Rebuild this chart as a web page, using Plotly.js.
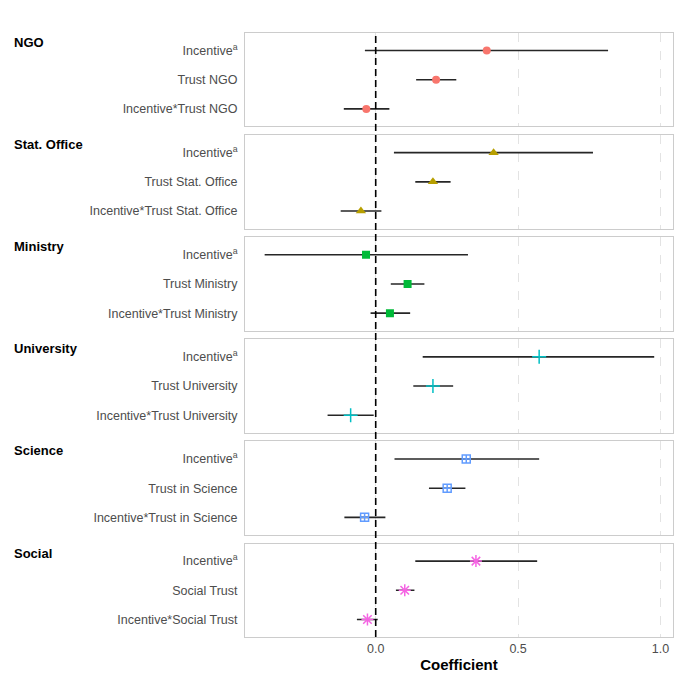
<!DOCTYPE html>
<html>
<head>
<meta charset="utf-8">
<script src="https://cdn.plot.ly/plotly-3.0.1.min.js"></script>
<style>html,body{margin:0;padding:0;background:#fff}#chart{width:682px;height:682px}</style>
</head>
<body>
<div id="chart"></div>
<script>
// ---- data ----
var groups = ['NGO', 'Stat. Office', 'Ministry', 'University', 'Science', 'Social'];
var termsNGO = ['Incentive<sup>a</sup>', 'Trust NGO', 'Incentive*Trust NGO'];
var termsStat = ['Incentive<sup>a</sup>', 'Trust Stat. Office', 'Incentive*Trust Stat. Office'];
var termsMinistry = ['Incentive<sup>a</sup>', 'Trust Ministry', 'Incentive*Trust Ministry'];
var termsUniversity = ['Incentive<sup>a</sup>', 'Trust University', 'Incentive*Trust University'];
var termsScience = ['Incentive<sup>a</sup>', 'Trust in Science', 'Incentive*Trust in Science'];
var termsSocial = ['Incentive<sup>a</sup>', 'Social Trust', 'Incentive*Social Trust'];

var estNGO = [0.390, 0.212, -0.033];
var loNGO  = [-0.038, 0.142, -0.112];
var hiNGO  = [0.816, 0.283, 0.048];

var estStat = [0.414, 0.201, -0.052];
var loStat  = [0.064, 0.139, -0.123];
var hiStat  = [0.763, 0.263, 0.020];

var estMinistry = [-0.034, 0.112, 0.050];
var loMinistry  = [-0.390, 0.053, -0.018];
var hiMinistry  = [0.324, 0.171, 0.121];

var estUniversity = [0.574, 0.201, -0.088];
var loUniversity  = [0.165, 0.132, -0.169];
var hiUniversity  = [0.978, 0.272, -0.007];

var estScience = [0.318, 0.251, -0.039];
var loScience  = [0.066, 0.187, -0.110];
var hiScience  = [0.574, 0.315, 0.034];

var estSocial = [0.352, 0.102, -0.029];
var loSocial  = [0.139, 0.071, -0.066];
var hiSocial  = [0.567, 0.136, 0.007];

var xTickVals = [0, 0.5, 1.0];
var xTickText = ['0.0', '0.5', '1.0'];

// ---- styles ----
var colors = ['#F8766D', '#B79F00', '#00BA38', '#00BFC4', '#619CFF', '#F564E3'];
var symbols = ['circle', 'triangle-up', 'square', 'cross-thin-open', 'square-cross-open', 'asterisk-open'];
var sizes = [8, 9, 8, 10, 8, 10];

(function () {
  var allTerms = [termsNGO, termsStat, termsMinistry, termsUniversity, termsScience, termsSocial];
  var allEst = [estNGO, estStat, estMinistry, estUniversity, estScience, estSocial];
  var allLo = [loNGO, loStat, loMinistry, loUniversity, loScience, loSocial];
  var allHi = [hiNGO, hiStat, hiMinistry, hiUniversity, hiScience, hiSocial];

  var FONT = 'Liberation Sans, Arial, sans-serif';
  var gap = 0.0144;
  var ph = (1 - 5 * gap) / 6;

  var traces = [];
  var layout = {
    width: 682, height: 682,
    margin: {l: 245, r: 9, t: 33, b: 45},
    paper_bgcolor: '#fff', plot_bgcolor: '#fff',
    showlegend: false,
    font: {family: FONT, color: '#4D4D4D'},
    annotations: [],
    shapes: []
  };

  for (var i = 0; i < 6; i++) {
    var n = i === 0 ? '' : String(i + 1);
    var est = allEst[i];
    var hi = allHi[i], lo = allLo[i];
    var plus = est.map(function (v, k) { return hi[k] - v; });
    var minus = est.map(function (v, k) { return v - lo[k]; });
    var isSym = symbols[i].indexOf('open') >= 0;
    traces.push({
      type: 'scatter', mode: 'markers',
      x: est, y: allTerms[i],
      xaxis: 'x' + n, yaxis: 'y' + n,
      marker: {
        color: colors[i], symbol: symbols[i], size: sizes[i],
        line: {color: colors[i], width: isSym ? 1.5 : 0}
      },
      error_x: {type: 'data', symmetric: false, array: plus, arrayminus: minus,
                width: 0, thickness: 1.6, color: '#262626'}
    });
    var dTop = 1 - i * (ph + gap);
    var dBot = dTop - ph;
    var isLast = i === 5;
    var xa = {
      domain: [0, 1], anchor: 'y' + n,
      range: [-0.459, 1.044],
      tickvals: xTickVals, ticktext: xTickText,
      showticklabels: isLast,
      ticks: '',
      tickfont: {size: 12.5, color: '#4D4D4D', family: FONT},
      showgrid: true, gridcolor: '#E3E3E3', griddash: 'dash', gridwidth: 1,
      zeroline: false,
      showline: true, linecolor: '#CCCCCC', linewidth: 1, mirror: true
    };
    if (isLast) xa.title = {text: '<b>Coefficient</b>', font: {size: 15, color: '#000', family: FONT}, standoff: 4};
    layout['xaxis' + n] = xa;
    layout['yaxis' + n] = {
      domain: [dBot, dTop], anchor: 'x' + n,
      type: 'category',
      categoryorder: 'array', categoryarray: allTerms[i],
      range: [2.6, -0.6],
      ticks: 'outside', ticklen: 4, tickcolor: 'rgba(0,0,0,0)',
      tickfont: {size: 12.5, color: '#4D4D4D', family: FONT},
      showgrid: false, zeroline: false,
      showline: true, linecolor: '#CCCCCC', linewidth: 1, mirror: true
    };
    layout.annotations.push({
      text: '<b>' + groups[i] + '</b>',
      xref: 'paper', yref: 'paper',
      x: (12 - 245) / 428, y: dTop,
      xanchor: 'left', yanchor: 'top',
      showarrow: false,
      font: {size: 13, color: '#000', family: FONT}
    });
  }

  layout.shapes.push({
    type: 'line', xref: 'x', yref: 'paper',
    x0: 0, x1: 0, y0: 0, y1: 1,
    line: {color: '#000', width: 1.6, dash: '7px,4px'},
    layer: 'above'
  });

  Plotly.newPlot('chart', traces, layout, {displayModeBar: false, staticPlot: true});
})();
</script>
</body>
</html>
